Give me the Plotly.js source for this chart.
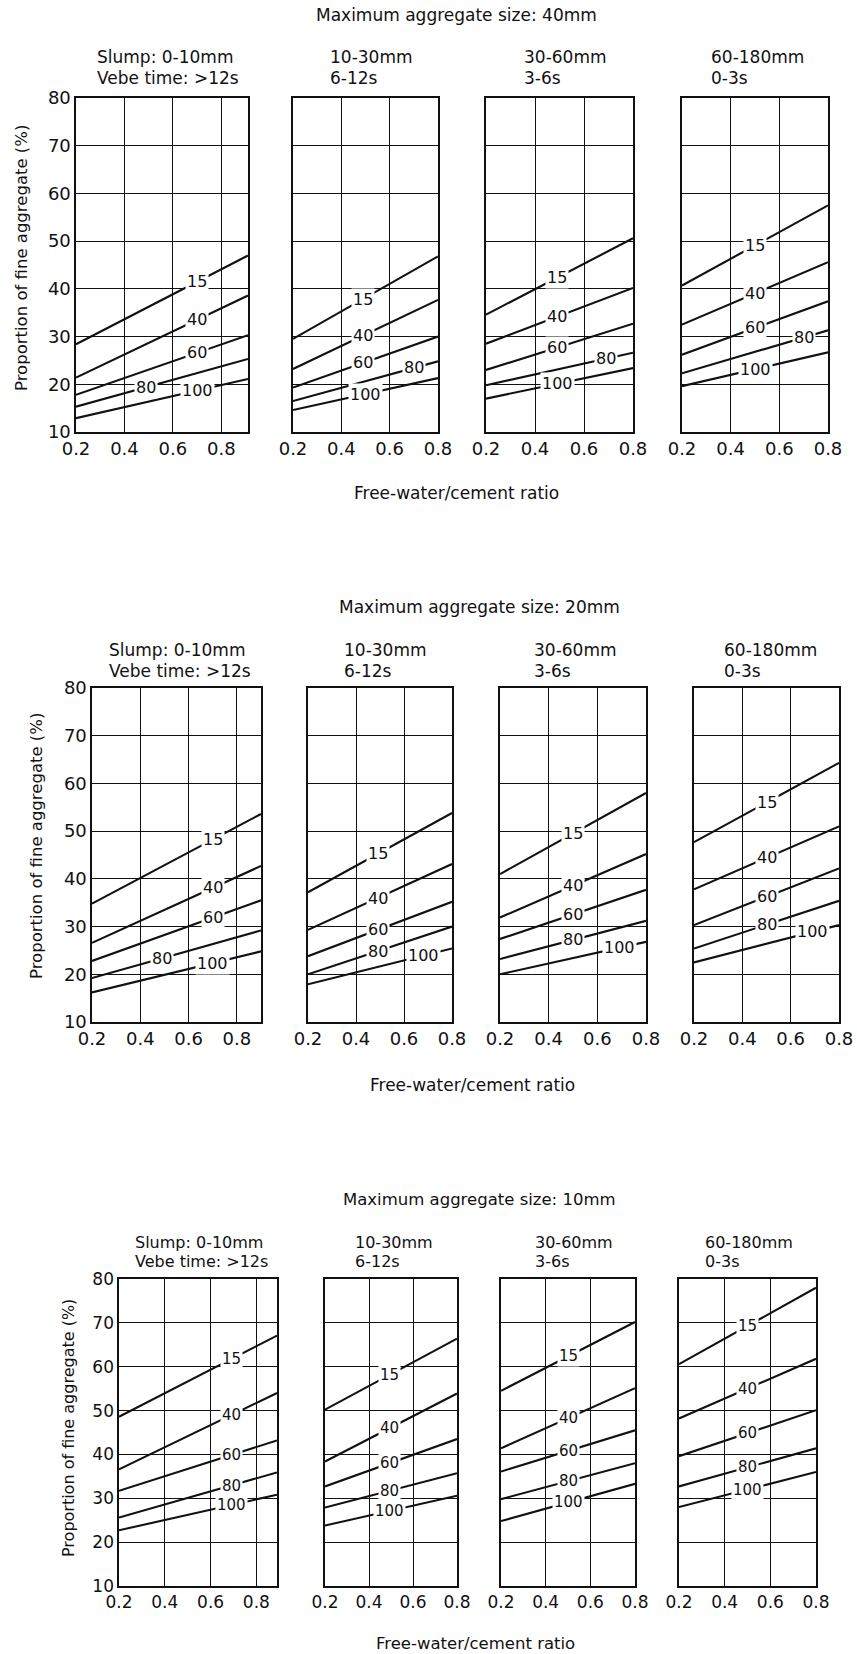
<!DOCTYPE html>
<html>
<head>
<meta charset="utf-8">
<script src="https://cdn.plot.ly/plotly-3.0.1.min.js"></script>
<style>html,body{margin:0;padding:0;background:#fff;}</style>
</head>
<body>
<div id="chart" style="width:857px;height:1654px;"></div>
<script>
// ---------- DATA ----------
const ratioTicks = [0.2, 0.4, 0.6, 0.8];
const percentTicks = [10, 20, 30, 40, 50, 60, 70, 80];
const passingLabels = ['15', '40', '60', '80', '100'];
const rowTitles = ['Maximum aggregate size: 40mm', 'Maximum aggregate size: 20mm', 'Maximum aggregate size: 10mm'];
const slumpText = ['Slump: 0-10mm', '10-30mm', '30-60mm', '60-180mm'];
const vebeText = ['Vebe time: >12s', '6-12s', '3-6s', '0-3s'];
const xAxisTitle = 'Free-water/cement ratio';
const yAxisTitle = 'Proportion of fine aggregate (%)';

// right end of each panel's ratio axis (first panel per row extends past 0.8)
const ratioEnd40 = [0.91, 0.8, 0.8, 0.8];
const ratioEnd20 = [0.90, 0.8, 0.8, 0.8];
const ratioEnd10 = [0.89, 0.8, 0.8, 0.8];

// fine-aggregate proportion (%) at w/c = 0.2 and at the right end, per curve (15,40,60,80,100 % passing 600um)
const start40 = [[28.4, 21.4, 17.8, 15.3, 12.9], [29.5, 23.2, 19.3, 16.5, 14.6], [34.6, 28.5, 23.0, 19.8, 17.0], [40.7, 32.5, 26.2, 22.3, 19.6]];
const end40   = [[47.0, 38.6, 30.3, 25.3, 21.1], [46.8, 37.7, 30.0, 24.8, 21.3], [50.6, 40.2, 32.7, 26.6, 23.4], [57.5, 45.6, 37.4, 31.3, 26.7]];
const start20 = [[34.8, 26.6, 22.8, 19.2, 16.2], [37.2, 29.3, 23.8, 20.0, 17.9], [41.0, 31.9, 27.4, 23.2, 20.0], [47.7, 37.8, 30.3, 25.4, 22.5]];
const end20   = [[53.6, 42.7, 35.5, 29.2, 24.8], [53.8, 43.1, 35.2, 30.0, 25.4], [58.0, 45.2, 37.7, 31.2, 26.8], [64.3, 51.0, 42.2, 35.4, 30.3]];
const start10 = [[48.6, 36.6, 31.7, 25.6, 22.7], [50.2, 38.4, 32.7, 27.9, 23.8], [54.5, 41.4, 36.1, 29.8, 24.8], [60.6, 48.2, 39.6, 32.7, 28.0]];
const end10   = [[67.1, 54.0, 43.2, 35.9, 30.8], [66.4, 53.9, 43.5, 35.7, 30.6], [70.2, 55.1, 45.5, 38.0, 33.3], [78.0, 61.8, 50.1, 41.4, 36.0]];

// w/c ratio where each curve label sits
const labelAt40 = [[0.70, 0.70, 0.70, 0.49, 0.70], [0.49, 0.49, 0.49, 0.70, 0.50], [0.49, 0.49, 0.49, 0.69, 0.49], [0.50, 0.50, 0.50, 0.70, 0.50]];
const labelAt20 = [[0.70, 0.70, 0.70, 0.49, 0.70], [0.49, 0.49, 0.49, 0.49, 0.68], [0.50, 0.50, 0.50, 0.50, 0.69], [0.50, 0.50, 0.50, 0.50, 0.69]];
const labelAt10 = [[0.69, 0.69, 0.69, 0.69, 0.69], [0.495, 0.495, 0.495, 0.495, 0.495], [0.50, 0.50, 0.50, 0.50, 0.50], [0.50, 0.50, 0.50, 0.50, 0.50]];

const rowData = [
  {ends: ratioEnd40, s: start40, e: end40, lab: labelAt40},
  {ends: ratioEnd20, s: start20, e: end20, lab: labelAt20},
  {ends: ratioEnd10, s: start10, e: end10, lab: labelAt10}
];

// ---------- LAYOUT GEOMETRY (pixels) ----------
const W = 857, H = 1654;
const FONT = 'DejaVu Sans, Verdana, sans-serif';
const INK = '#111';
const geom = [
  {top: 98, bottom: 432, panels: [[76, 248], [293, 438], [486, 633], [682, 828]],
   titleX: 456, titleY: 15, subX: [95, 328, 522, 709], subY: [57, 78],
   xtX: 456, xtY: 493, ytX: 22, ytY: 258, tick: 18, sub: 17, lab: 16, ttl: 17},
  {top: 688, bottom: 1022, panels: [[92, 261], [308, 452], [500, 646], [694, 839]],
   titleX: 480, titleY: 607, subX: [107, 342, 532, 722], subY: [650, 671],
   xtX: 472, xtY: 1085, ytX: 37, ytY: 846, tick: 18, sub: 17, lab: 16, ttl: 17},
  {top: 1279, bottom: 1586, panels: [[119, 277], [325, 457], [501, 635], [679, 816]],
   titleX: 480, titleY: 1199, subX: [133, 353, 533, 703], subY: [1242, 1261],
   xtX: 475, xtY: 1643, ytX: 68, ytY: 1428, tick: 17, sub: 16, lab: 15, ttl: 16.5}
];
const px = v => v / W;
const py = v => 1 - v / H;

const traces = [];
const annotations = [];
const layout = {
  width: W, height: H,
  margin: {l: 0, r: 0, t: 0, b: 0},
  paper_bgcolor: '#fff', plot_bgcolor: '#fff',
  showlegend: false,
  font: {family: FONT, color: INK},
  annotations: annotations
};

let n = 0;
geom.forEach((g, r) => {
  const d = rowData[r];
  annotations.push({xref: 'paper', yref: 'paper', x: px(g.titleX), y: py(g.titleY),
    xanchor: 'center', yanchor: 'middle', showarrow: false, text: rowTitles[r],
    font: {family: FONT, size: g.ttl, color: INK}});
  annotations.push({xref: 'paper', yref: 'paper', x: px(g.xtX), y: py(g.xtY),
    xanchor: 'center', yanchor: 'middle', showarrow: false, text: xAxisTitle,
    font: {family: FONT, size: g.ttl, color: INK}});
  annotations.push({xref: 'paper', yref: 'paper', x: px(g.ytX), y: py(g.ytY),
    xanchor: 'center', yanchor: 'middle', showarrow: false, textangle: -90, text: yAxisTitle,
    font: {family: FONT, size: g.ttl - 0.5, color: INK}});

  g.panels.forEach((p, c) => {
    n += 1;
    const xid = n === 1 ? 'x' : 'x' + n;
    const yid = n === 1 ? 'y' : 'y' + n;
    const xmax = d.ends[c];
    layout[n === 1 ? 'xaxis' : 'xaxis' + n] = {
      domain: [px(p[0]), px(p[1])], anchor: yid, range: [0.2, xmax],
      tickvals: ratioTicks, ticktext: ratioTicks.map(v => v.toFixed(1)),
      showgrid: true, gridcolor: INK, gridwidth: 1, zeroline: false,
      showline: true, mirror: true, linecolor: INK, linewidth: 1.6, ticks: '',
      tickfont: {family: FONT, size: g.tick, color: INK}, fixedrange: true
    };
    layout[n === 1 ? 'yaxis' : 'yaxis' + n] = {
      domain: [py(g.bottom), py(g.top)], anchor: xid, range: [10, 80],
      tickvals: percentTicks, showticklabels: c === 0,
      showgrid: true, gridcolor: INK, gridwidth: 1, zeroline: false,
      showline: true, mirror: true, linecolor: INK, linewidth: 1.6, ticks: '',
      tickfont: {family: FONT, size: g.tick, color: INK}, fixedrange: true
    };
    annotations.push({xref: 'paper', yref: 'paper', x: px(g.subX[c]), y: py(g.subY[0]),
      xanchor: 'left', yanchor: 'middle', showarrow: false, text: slumpText[c],
      font: {family: FONT, size: g.sub, color: INK}});
    annotations.push({xref: 'paper', yref: 'paper', x: px(g.subX[c]), y: py(g.subY[1]),
      xanchor: 'left', yanchor: 'middle', showarrow: false, text: vebeText[c],
      font: {family: FONT, size: g.sub, color: INK}});

    passingLabels.forEach((lbl, k) => {
      const s = d.s[c][k], e = d.e[c][k];
      traces.push({type: 'scatter', mode: 'lines', xaxis: xid, yaxis: yid,
        x: [0.2, xmax], y: [s, e], line: {color: INK, width: 2.1},
        hoverinfo: 'skip', showlegend: false, cliponaxis: true});
      const lx = d.lab[c][k];
      const ly = s + (e - s) * (lx - 0.2) / (xmax - 0.2);
      annotations.push({xref: xid, yref: yid, x: lx, y: ly, xanchor: 'center', yanchor: 'middle',
        showarrow: false, text: lbl, bgcolor: '#fff', borderpad: 1,
        font: {family: FONT, size: g.lab, color: INK}});
    });
  });
});

Plotly.newPlot('chart', traces, layout, {staticPlot: true, displayModeBar: false});
</script>
</body>
</html>
